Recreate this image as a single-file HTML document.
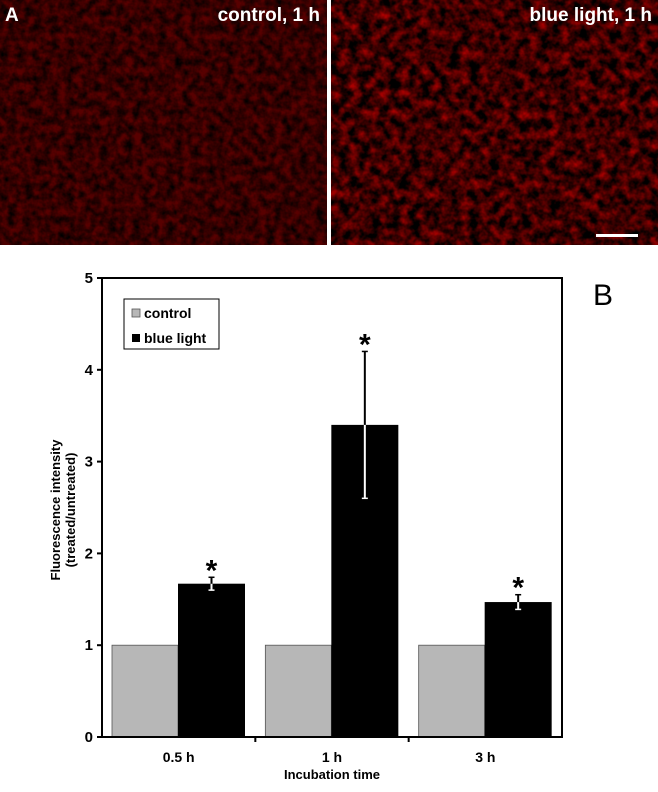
<!DOCTYPE html>
<html><head><meta charset="utf-8"><style>
body{margin:0;background:#fff;width:658px;height:787px;overflow:hidden;font-family:"Liberation Sans",Arial,sans-serif}
</style></head><body>
<svg width="658" height="787">
<defs>
<filter id="nL" x="0" y="0" width="100%" height="100%"><feTurbulence type="fractalNoise" baseFrequency="0.12" numOctaves="3" seed="3"/><feColorMatrix values="0 0 0 0 0  0 0 0 0 0  0 0 0 0 0  1.6 0 0 0 -0.4"/></filter>
<filter id="nR" x="0" y="0" width="100%" height="100%"><feTurbulence type="fractalNoise" baseFrequency="0.1" numOctaves="3" seed="7"/><feColorMatrix values="0 0 0 0 0  0 0 0 0 0  0 0 0 0 0  1.7 0 0 0 -0.2"/></filter>
</defs>
<g>
<rect x="0" y="0" width="327" height="245" fill="#580000"/>
<rect x="0" y="0" width="327" height="245" fill="#e01818" filter="url(#nL)"/>
<rect x="331" y="0" width="327" height="245" fill="#a80000"/>
<rect x="331" y="0" width="327" height="245" fill="#ff3030" filter="url(#nR)"/>
<text x="5" y="21" fill="#fff" font-size="19" font-weight="bold">A</text>
<text x="320" y="21" fill="#fff" font-size="19" font-weight="bold" text-anchor="end">control, 1 h</text>
<text x="652" y="21" fill="#fff" font-size="19" font-weight="bold" text-anchor="end">blue light, 1 h</text>
<rect x="596" y="234" width="42" height="3" fill="#fff"/>
</g>
<g id="chart"></g>
</svg>
<script>
const categories=["0.5 h","1 h","3 h"];
const controlVals=[1,1,1];
const blueVals=[1.67,3.4,1.47];
const blueErr=[0.07,0.8,0.08];
const yTicks=[0,1,2,3,4,5];
const NS="http://www.w3.org/2000/svg";
const g=document.getElementById('chart');
const X0=102,X1=562,Y0=737,Y5=278;
const y=v=>Y0-(v/5)*(Y0-Y5);
const gw=(X1-X0)/categories.length;
function el(t,a,txt){const e=document.createElementNS(NS,t);for(const k in a)e.setAttribute(k,a[k]);if(txt!=null)e.textContent=txt;g.appendChild(e);return e;}
categories.forEach((c,i)=>{
 const gx=X0+i*gw;
 const r1=el('rect',{x:gx+10,y:y(controlVals[i]),width:66,height:Y0-y(controlVals[i]),fill:'#b7b7b7',stroke:'#555','stroke-width':0.8});
 
 
 const r2=el('rect',{x:gx+76,y:y(blueVals[i]),width:67,height:Y0-y(blueVals[i]),fill:'#000'});
 
 
 const cx=gx+109.5;
 const e1=el('line',{x1:cx,x2:cx,y1:y(blueVals[i]),y2:y(blueVals[i]-blueErr[i]),stroke:'#fff','stroke-width':2});
 
 
 el('line',{x1:cx-3,x2:cx+3,y1:y(blueVals[i]-blueErr[i]),y2:y(blueVals[i]-blueErr[i]),stroke:'#fff','stroke-width':1.5});
 const e2=el('line',{x1:cx,x2:cx,y1:y(blueVals[i]),y2:y(blueVals[i]+blueErr[i]),stroke:'#000','stroke-width':2});
 
 
 el('line',{x1:cx-3,x2:cx+3,y1:y(blueVals[i]+blueErr[i]),y2:y(blueVals[i]+blueErr[i]),stroke:'#000','stroke-width':1.5});
 const s=el('text',{x:cx,y:y(blueVals[i]+blueErr[i])+3,'font-size':30,'font-weight':'bold','text-anchor':'middle'},'*');
 
 
 const t=el('text',{x:gx+gw/2,y:762,'font-size':14,'font-weight':'bold','text-anchor':'middle'},c);
 
 
 if(i>0)el('line',{x1:gx,x2:gx,y1:Y0,y2:Y0+5,stroke:'#000','stroke-width':2});
});
yTicks.forEach(v=>{
 el('line',{x1:X0-5,x2:X0,y1:y(v),y2:y(v),stroke:'#000','stroke-width':2});
 const t=el('text',{x:X0-9,y:y(v)+5,'font-size':15,'font-weight':'bold','text-anchor':'end'},String(v));
 
 
});
el('polyline',{points:`${X0},${Y5} ${X0},${Y0} ${X1},${Y0} ${X1},${Y5} ${X0},${Y5}`,fill:'none',stroke:'#000','stroke-width':2});
const xt=el('text',{x:X0+(X1-X0)/2,y:779,'font-size':13,'font-weight':'bold','text-anchor':'middle'},'Incubation time');


const yt=el('text',{transform:'translate(60,510) rotate(-90)','font-size':13,'font-weight':'bold','text-anchor':'middle'});


yt.innerHTML='<tspan x="0" dy="0">Fluorescence intensity</tspan><tspan x="0" dy="15">(treated/untreated)</tspan>';
const lg=el('rect',{x:124,y:299,width:95,height:50,fill:'#fff',stroke:'#000','stroke-width':1});


el('rect',{x:132,y:309,width:8,height:8,fill:'#b7b7b7',stroke:'#555','stroke-width':0.8});
const l1=el('text',{x:144,y:318,'font-size':14,'font-weight':'bold'},'control');


el('rect',{x:132,y:334,width:8,height:8,fill:'#000'});
const l2=el('text',{x:144,y:343,'font-size':14,'font-weight':'bold'},'blue light');


const b=el('text',{x:593,y:305,'font-size':30},'B');


</script>
</body></html>
